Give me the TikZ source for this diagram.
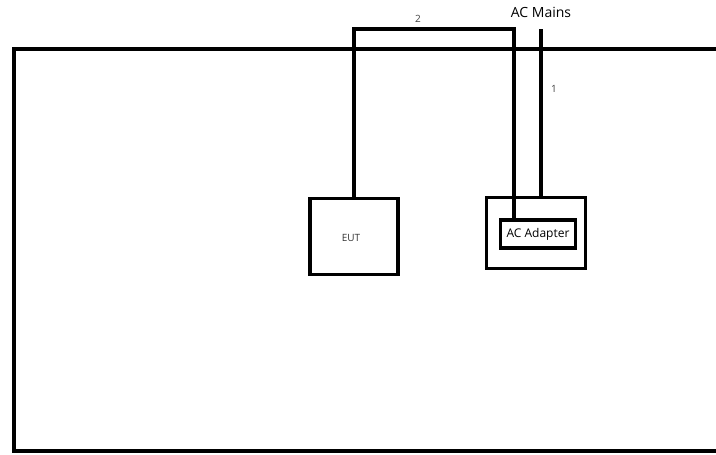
\documentclass[tikz,border=0pt]{standalone}
\usepackage{fontspec}
\setmainfont{Open Sans}
\tikzset{
  unitbox/.style={draw, line width=2.4pt, inner sep=0pt},
  cable/.style={line width=2.4pt},
  tag/.style={font=\fontsize{7.5}{9}\selectfont, text=black!75}
}
\begin{document}
\begin{tikzpicture}[x=0.75pt, y=-0.75pt]
    \useasboundingbox (0,0) rectangle (716,454);
    % Test room
    \draw[line width=3pt] (730,49) -| (14,451) -- (730,451);

    % Units
    \node[unitbox, minimum width=66pt, minimum height=57pt] (eut) at (354,236.5) {};
    \node[font=\fontsize{7.5}{9}\selectfont, text=black!80] (euttext) at (351,238) {EUT};
    \node[unitbox, minimum width=74pt, minimum height=53pt] (adapterbox) at (536,233) {};
    \node[unitbox, minimum width=56pt, minimum height=21pt] (adapter) at (538,234)
        {\fontsize{9}{10}\selectfont AC Adapter};

    % Cables
    \coordinate (top2) at (514,29);
    \coordinate (mains) at (541,29);
    \draw[cable] (eut.north) |- (top2) -- (top2 |- adapter.north);
    \draw[cable] (mains) -- (mains |- adapterbox.north);

    \node[font=\fontsize{10.5}{12}\selectfont] (mainstext) at (541,12) {AC Mains};
    \node[tag] (cable2) at (418,19) {2};
    \node[tag] (cable1) at (554,89) {1};
\end{tikzpicture}
\end{document}
